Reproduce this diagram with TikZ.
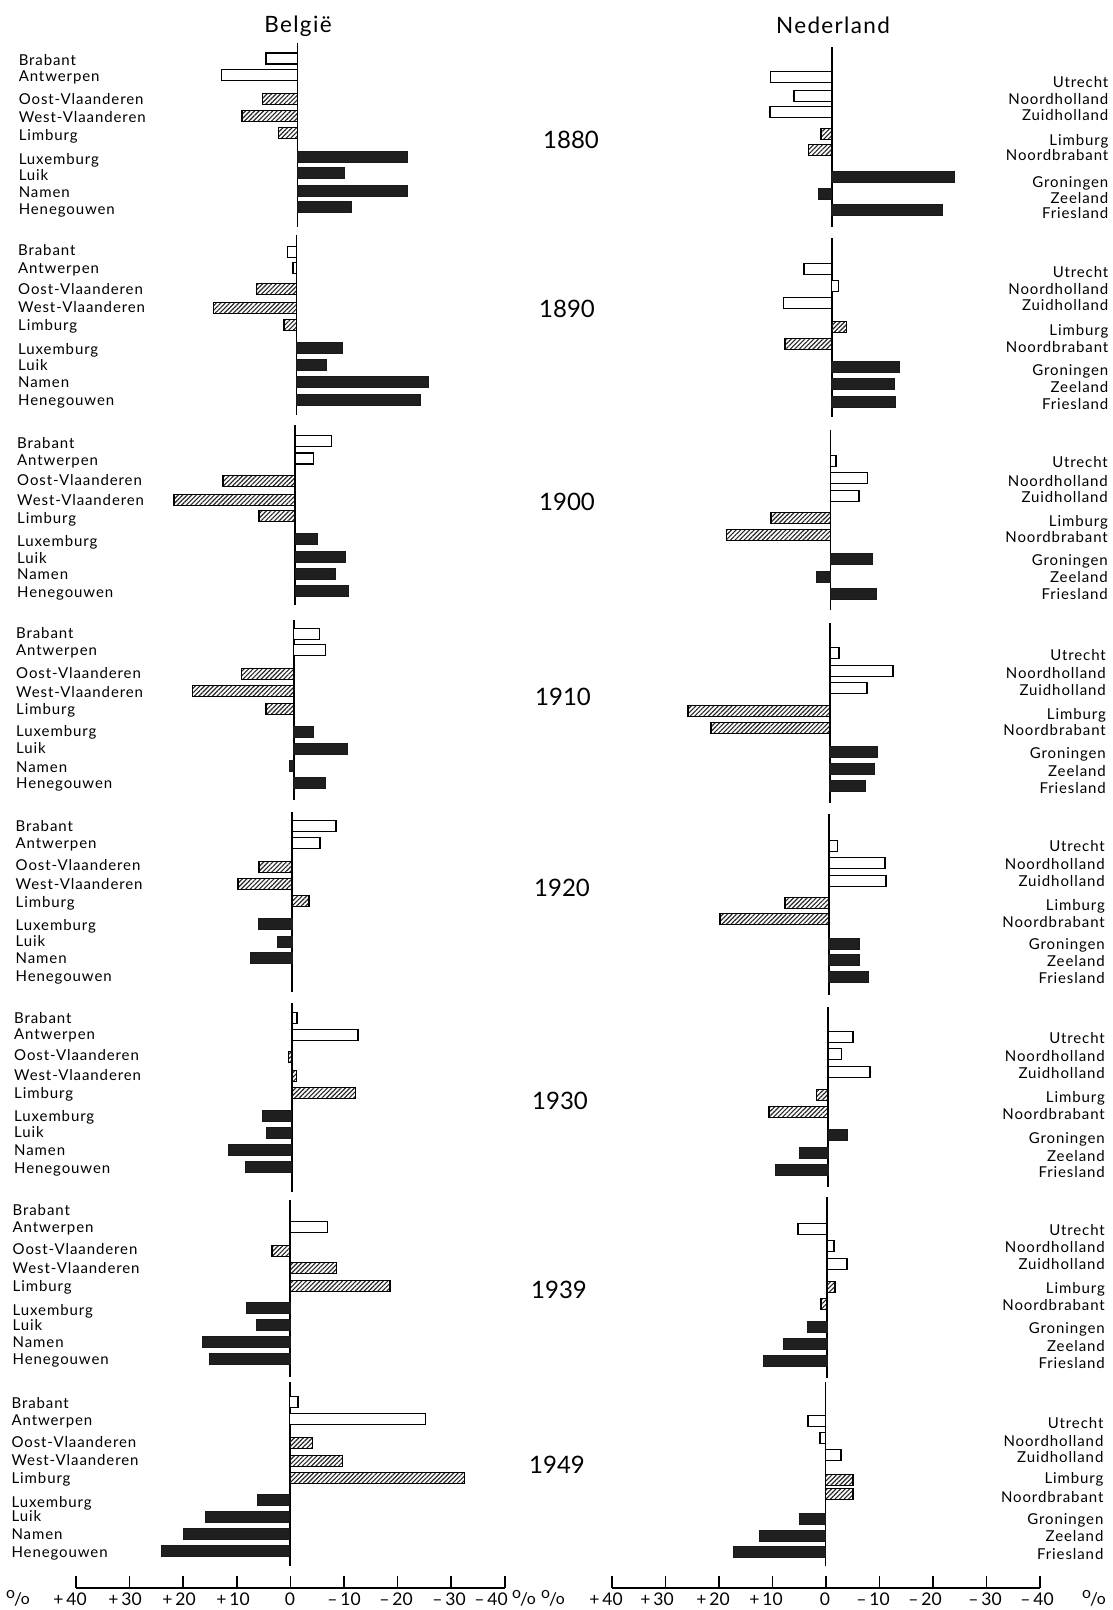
\documentclass[tikz,border=0pt]{standalone}
\usepackage{fontspec}
\setmainfont{Lato}
\newfontfamily\labfont[LetterSpace=6]{Lato}
\usepackage{graphicx}
\usetikzlibrary{patterns.meta}
\newcommand{\pct}{\raisebox{0.75ex}{\scalebox{0.9}{o}}\kern-0.06em/\kern-0.06em\raisebox{0.05ex}{\scalebox{0.9}{o}}}
\newcommand{\mkbar}[4]{\draw[#1] ({#2},{#3-5.5}) rectangle ({#2+(#4)},{#3+5.5});}
\newcommand{\barset}[3]{\foreach \yy/\ll in {#3} {\mkbar{#1}{#2}{\yy}{\ll}}}
\newcommand{\belname}[1]{\ifcase#1\or Brabant\or Antwerpen\or Oost-Vlaanderen\or West-Vlaanderen\or Limburg\or Luxemburg\or Luik\or Namen\or Henegouwen\fi}
\newcommand{\nlname}[1]{\ifcase#1\or Utrecht\or Noordholland\or Zuidholland\or Limburg\or Noordbrabant\or Groningen\or Zeeland\or Friesland\fi}
\newcommand{\leftlabs}[3]{\foreach \yy [count=\i] in {#3} {\node[lab] (#1-\i) at (#2,\yy+5.5) {\belname{\i}};}}
\newcommand{\rightlabs}[3]{\foreach \yy [count=\i] in {#3} {\node[rlab] (#1-\i) at (#2,\yy+5.5) {\nlname{\i}};}}
\tikzset{
  wbar/.style={draw=black, line width=1.7pt, fill=white},
  hbar/.style={draw=black, line width=1.5pt, pattern={Lines[angle=45,distance=3.2pt,line width=1.15pt]}, pattern color=black!85},
  kbar/.style={draw=black!90, line width=1pt, fill=black!88},
  zline/.style={line width=1.8pt, black},
  lab/.style={anchor=base west, inner sep=0pt, font=\labfont\fontsize{15}{18}\selectfont},
  rlab/.style={anchor=base east, inner sep=0pt, font=\labfont\fontsize{15}{18}\selectfont},
  yearlab/.style={anchor=base, inner sep=0pt, font=\fontsize{24}{28}\selectfont},
  ttl/.style={anchor=base, inner sep=0pt, font=\labfont\fontsize{22.5}{26}\selectfont},
  ticklab/.style={anchor=base, inner sep=0pt, font=\fontsize{17.5}{19}\selectfont},
}
\begin{document}
\begin{tikzpicture}[x=1pt,y=-1pt]
\fill[white] (0,0) rectangle (1113,1610);
\useasboundingbox (0,0) rectangle (1113,1610);
% titles
\node[ttl] (tbe) at (298,32) {België};
\node[ttl] (tnl) at (833,33) {Nederland};
% years
\node[yearlab] (y1880) at (571,148.5) {1880};
\node[yearlab] (y1890) at (567,317.5) {1890};
\node[yearlab] (y1900) at (567,510.5) {1900};
\node[yearlab] (y1910) at (563,705.5) {1910};
\node[yearlab] (y1920) at (562,896.5) {1920};
\node[yearlab] (y1930) at (560,1109.5) {1930};
\node[yearlab] (y1939) at (559,1298.5) {1939};
\node[yearlab] (y1949) at (557,1473.5) {1949};
% ---------------- Belgium ----------------
% 1880
\draw[zline] (297.5,43) -- (297.5,227);
\barset{wbar}{297.5}{58.5/-31.5, 75/-76}
\barset{hbar}{297.5}{99/-35, 116/-55.7, 133/-19}
\barset{kbar}{297.5}{157/109.5, 173/47, 191/109.5, 207/54.3}
\leftlabs{ba}{18.6}{60,76,99,117,135,159,175,192,209}
% 1890
\draw[zline] (296.4,235) -- (296.4,415);
\barset{wbar}{296.4}{252/-9, 268/-3.5}
\barset{hbar}{296.4}{289/-40, 308/-83, 325/-12.5}
\barset{kbar}{296.4}{348/46.4, 365/29.6, 382/132, 400/124}
\leftlabs{bb}{18}{250,268,289,307,325,349,365,382,400}
% 1900
\draw[zline] (295,425) -- (295,605);
\barset{wbar}{295}{441/36.4, 458.5/18.6}
\barset{hbar}{295}{481/-72, 500/-121, 516/-36}
\barset{kbar}{295}{539/22, 557/50.7, 574/40.7, 591/53}
\leftlabs{bc}{17}{443,460,480,500,518,541,558,574,592}
% 1910
\draw[zline] (293.6,620) -- (293.6,800);
\barset{wbar}{293.6}{634/26, 650/32}
\barset{hbar}{293.6}{674/-52, 691/-101, 709/-27.5}
\barset{kbar}{293.6}{732/19.6, 749/54, 766/-4.3, 783/32}
\leftlabs{bd}{16}{633,650,673,692,709,731,748,767,783}
% 1920
\draw[zline] (292,812) -- (292,992);
\barset{wbar}{292}{826/44, 843/28}
\barset{hbar}{292}{867/-33, 884/-54, 901/17}
\barset{kbar}{292}{924/-34, 942/-14.6, 958/-42}
\leftlabs{be}{15.5}{826,843,865,884,902,925,941,958,976}
% 1930
\draw[zline] (291.8,1003) -- (291.8,1192);
\barset{wbar}{291.8}{1018/5.4, 1035/66}
\barset{hbar}{291.8}{1057/-3.2, 1076/4.6, 1093/63.6}
\barset{kbar}{291.8}{1116/-29, 1133/-25.7, 1150/-63, 1167/-46}
\leftlabs{bf}{14}{1018,1034,1055,1075,1093,1116,1132,1150,1168}
% 1939
\draw[zline] (290,1200) -- (290,1377);
\barset{wbar}{290}{1227/37.5}
\barset{hbar}{290}{1251/-18, 1268/46.4, 1286/100}
\barset{kbar}{290}{1308/-43.6, 1325/-34, 1342/-88, 1359/-81}
\leftlabs{bg}{12.5}{1210,1227,1249,1268,1286,1310,1325,1342,1359}
% 1949
\draw[zline] (289.6,1382) -- (289.6,1566);
\barset{wbar}{289.6}{1402/8.5, 1419/136}
\barset{hbar}{289.6}{1443/22.7, 1461/53, 1478/175}
\barset{kbar}{289.6}{1500/-32, 1517/-84, 1534/-106.6, 1551/-128}
\leftlabs{bh}{11.4}{1403,1420,1442,1460,1478,1502,1516,1534,1552}
% ---------------- Nederland ----------------
% 1880
\draw[zline] (831.6,47) -- (831.6,227);
\barset{wbar}{831.6}{77/-61, 96/-37.7, 112/-61.7}
\barset{hbar}{831.6}{134/-10.6, 150/-23}
\barset{kbar}{831.6}{177/122.7, 194/-13, 210/111}
\rightlabs{na}{1108.5}{82,99,115,140,155,182,198,213}
% 1890
\draw[zline] (831.6,238) -- (831.6,417);
\barset{wbar}{831.6}{269/-27.5, 286/7, 303/-48}
\barset{hbar}{831.6}{327/15, 344/-46.6}
\barset{kbar}{831.6}{367/68, 384/62.4, 402/63.5}
\rightlabs{nb}{1108.5}{272,289,305,330,347,370,387,404}
% 1900
\draw[zline] (830.5,430) -- (830.5,610);
\barset{wbar}{830.5}{461/5.3, 478/37, 496/28.6}
\barset{hbar}{830.5}{518/-59.6, 535/-104}
\barset{kbar}{830.5}{559/41.6, 577/-13.8, 594/46.2}
\rightlabs{nc}{1108}{462,481,497,521,537,560,577,594}
% 1910
\draw[zline] (829.8,623) -- (829.8,803);
\barset{wbar}{829.8}{653/9.5, 671/63, 688/37}
\barset{hbar}{829.8}{711/-142, 728/-119}
\barset{kbar}{829.8}{752/47.6, 769/45, 786/36}
\rightlabs{nd}{1106}{655,673,690,714,730,753,771,788}
% 1920
\draw[zline] (828.8,814) -- (828.8,995);
\barset{wbar}{828.8}{846/8.8, 863/56, 881/57}
\barset{hbar}{828.8}{903/-44, 919/-109}
\barset{kbar}{828.8}{944/31, 960/31, 977/40}
\rightlabs{ne}{1105}{846,864,881,905,922,944,961,978}
% 1930
\draw[zline] (828,1007) -- (828,1187);
\barset{wbar}{828}{1037/24.7, 1054/13.4, 1072/42.3}
\barset{hbar}{828}{1095/-11.3, 1112/-59}
\barset{kbar}{828}{1135/19.4, 1153/-29, 1170/-53}
\rightlabs{nf}{1105}{1038,1056,1073,1097,1114,1138,1156,1172}
% 1939
\draw[zline] (827,1197) -- (827,1378);
\barset{wbar}{827}{1229/-29, 1246/7, 1264/19.7}
\barset{hbar}{827}{1287/8, 1304/-6}
\barset{kbar}{827}{1327/-19.4, 1344/-44, 1361/-63.5}
\rightlabs{ng}{1105}{1230,1247,1264,1288,1305,1328,1346,1363}
% 1949
\draw[zline] (825.4,1382) -- (825.4,1566);
\barset{wbar}{825.4}{1421/-17.7, 1438/-5.7, 1455/15.6}
\barset{hbar}{825.4}{1480/27.7, 1494/27.7}
\barset{kbar}{825.4}{1519/-25.5, 1536/-66, 1552/-92}
\rightlabs{nh}{1103.6}{1423,1441,1457,1478,1497,1519,1536,1554}
% ---------------- axes ----------------
\draw[zline] (76,1588) -- (505,1588);
\foreach \x in {76,129.6,183.2,236.8,290.4,344,397.6,451.2,504.8} \draw[line width=1.6pt] (\x,1588) -- (\x,1576);
\draw[zline] (612,1588) -- (1040,1588);
\foreach \x in {612,665.5,719,772.5,826,879.5,933,986.5,1040} \draw[line width=1.6pt] (\x,1588) -- (\x,1576);
\node[ticklab] (pa) at (18,1605) {\pct};
\node[ticklab] (la1) at (70,1605) {+\,40};
\node[ticklab] (la2) at (125,1605) {+\,30};
\node[ticklab] (la3) at (179,1605) {+\,20};
\node[ticklab] (la4) at (233,1605) {+\,10};
\node[ticklab] (la5) at (290,1605) {0};
\node[ticklab] (la6) at (344,1605) {–\,10};
\node[ticklab] (la7) at (396,1605) {–\,20};
\node[ticklab] (la8) at (449,1605) {–\,30};
\node[ticklab] (la9) at (491,1605) {–\,40};
\node[ticklab] (pb) at (524,1605) {\pct};
\node[ticklab] (pc) at (553,1605) {\pct};
\node[ticklab] (ra1) at (606,1605) {+\,40};
\node[ticklab] (ra2) at (657,1605) {+\,30};
\node[ticklab] (ra3) at (713,1605) {+\,20};
\node[ticklab] (ra4) at (766,1605) {+\,10};
\node[ticklab] (ra5) at (825,1605) {0};
\node[ticklab] (ra6) at (873,1605) {–\,10};
\node[ticklab] (ra7) at (925,1605) {–\,20};
\node[ticklab] (ra8) at (985,1605) {–\,30};
\node[ticklab] (ra9) at (1037,1605) {–\,40};
\node[ticklab] (pd) at (1094,1605) {\pct};
\end{tikzpicture}
\end{document}
